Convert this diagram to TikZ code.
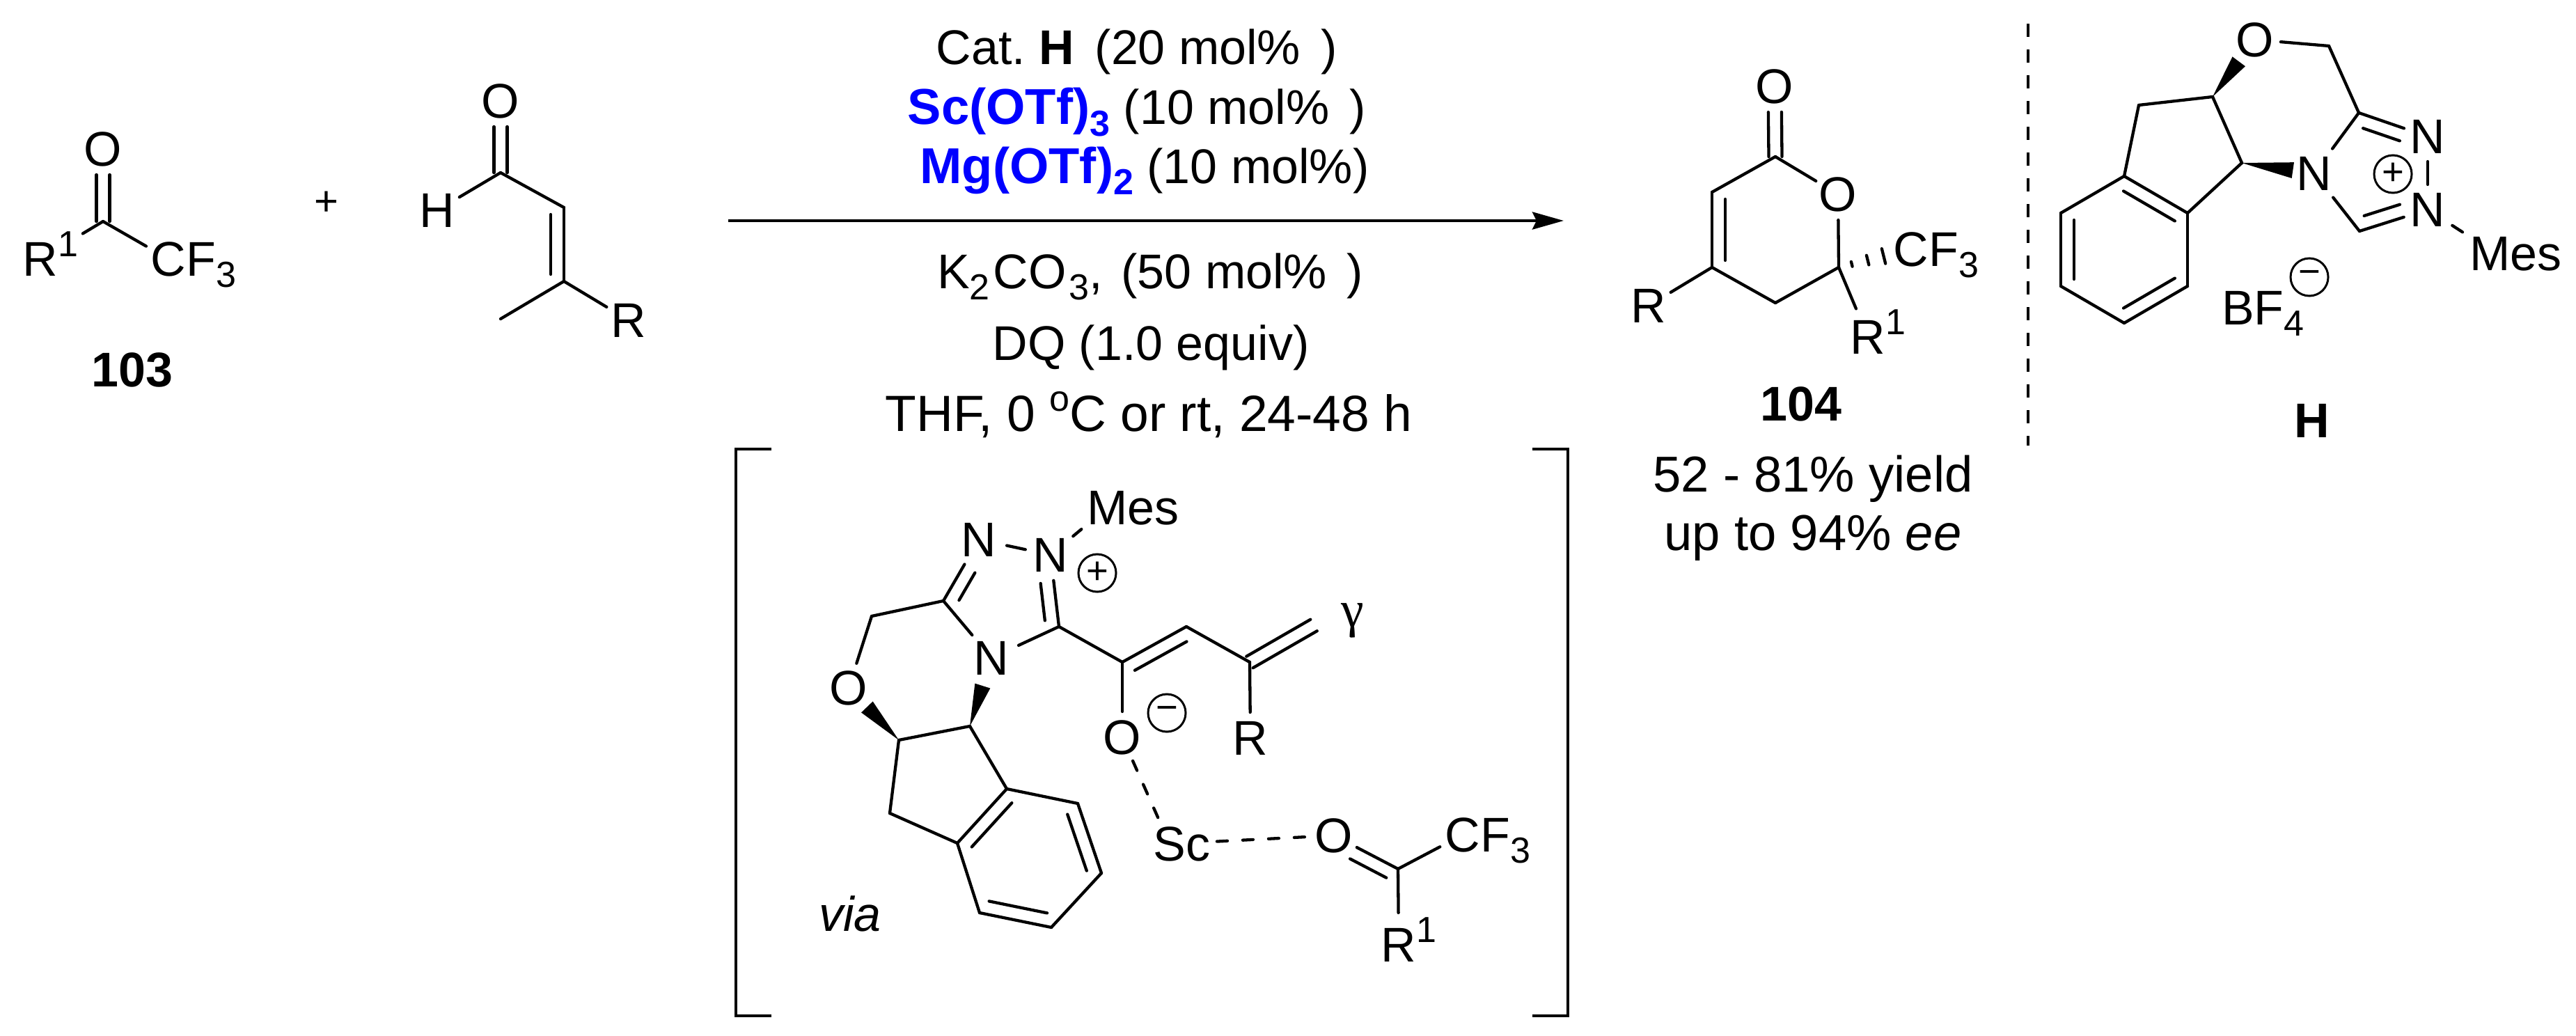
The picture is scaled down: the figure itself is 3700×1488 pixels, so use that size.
\documentclass[tikz,border=0pt]{standalone}
\usepackage{fontspec}
\setmainfont{Liberation Sans}
\newfontfamily\gammafont{Liberation Serif}
\frenchspacing
\usetikzlibrary{arrows.meta,calc}
\tikzstyle{bond}=[line width=.043cm, line cap=round, line join=round]
\tikzstyle{dashbond}=[bond, dash pattern=on .15cm off .22cm]
\tikzstyle{atom}=[circle, inner sep=0pt, outer sep=0pt, minimum size=.74cm]
\tikzstyle{txt}=[inner sep=0pt, outer sep=0pt, anchor=base]
\tikzstyle{charge}=[circle, draw=black, line width=.03cm, inner sep=0pt, minimum size=.54cm, font=\fontsize{15.5pt}{16pt}\selectfont]
\newcommand{\lsub}[1]{\raisebox{-.16cm}[0pt][0pt]{\fontsize{14.8pt}{16pt}\selectfont #1}}
\newcommand{\lsup}[1]{\raisebox{.28cm}[0pt][0pt]{\fontsize{14.8pt}{16pt}\selectfont #1}}
\newcommand{\leadbold}[1]{\textcolor{blue}{\fontsize{20.6pt}{24pt}\selectfont\textbf{#1}}}
\newcommand{\innerbond}[3][shorten <=.1cm,shorten >=.1cm]{\draw[bond,#1] ($(#2)!.19cm!90:(#3)$) -- ($(#3)!.19cm!-90:(#2)$);}
\newcommand{\twinbond}[3][]{\draw[bond,#1] ($(#2)!.095cm!90:(#3)$) -- ($(#3)!.095cm!-90:(#2)$);
  \draw[bond,#1] ($(#2)!.095cm!-90:(#3)$) -- ($(#3)!.095cm!90:(#2)$);}
\newcommand{\wedgebond}[3]{\coordinate (wmid) at ($(#2)!#3!(#1)$);
  \fill (#1) -- ($(wmid)!.115cm!90:(#1)$) -- ($(wmid)!.115cm!-90:(#1)$) -- cycle;}

\begin{document}
\begin{tikzpicture}[x=.01cm,y=-.01cm,
    every node/.append style={font=\fontsize{19.9pt}{24pt}\selectfont}]
  \useasboundingbox (0,0) rectangle (3700,1488);

  % ketone 103
  \node[atom] (oK) at (148,214) {O};
  \coordinate (cK) at (148,318);
  \node[atom] (rK) at (58,372) {R\rlap{\lsup{1}}};
  \node[atom] (cfK) at (242,372) {C\rlap{F\lsub{3}}};
  \node[txt] (nameK) at (190,555) {\textbf{103}};
  \twinbond[shorten >=.37cm]{cK}{oK}
  \draw[bond] (cK) -- (cfK);
  \draw[bond,shorten >=.34cm] (cK) -- (rK);
  \node[txt,font=\fontsize{17pt}{20pt}\selectfont] (plusK) at (469,309) {+};

  % enal
  \node[atom] (oA) at (719,145) {O};
  \node[atom] (hA) at (628,302) {H};
  \node[atom] (rA) at (903,460) {R};
  \coordinate (cA) at (719,248);
  \coordinate (c1A) at (810,298);
  \coordinate (c2A) at (810,404);
  \coordinate (meA) at (719,458);
  \twinbond[shorten >=.37cm]{cA}{oA}
  \foreach \a/\b in {cA/hA,cA/c1A,c1A/c2A,c2A/meA,c2A/rA}
    \draw[bond] (\a) -- (\b);
  \innerbond{c2A}{c1A}

  % conditions
  \node[txt] (catLine) at (1633,93) {Cat. \textbf{H}\hspace{.1cm} (20 mol\%\hspace{.1cm} )};
  \node[txt] (scLine) at (1633,179) {\leadbold{Sc(OTf)\lsub{3}} (10 mol\%\hspace{.1cm} )};
  \node[txt] (mgLine) at (1644,263) {\leadbold{Mg(OTf)\lsub{2}} (10 mol\%)};
  \node[txt] (baseLine) at (1652,414) {K\lsub{2}\hspace{.05cm}CO\hspace{.04cm}\lsub{3},\hspace{.07cm} (50 mol\%\hspace{.09cm} )};
  \node[txt] (dqLine) at (1653,517) {DQ (1.0 equiv)};
  \node[txt,font=\fontsize{20.8pt}{24pt}\selectfont] (thfLine) at (1650,619) {THF, 0 \lsup{o}C or rt, 24-48 h};
  \coordinate (arrowL) at (1046,317);
  \coordinate (arrowR) at (2246,317);
  \draw[line width=.045cm,-{Stealth[length=.45cm,width=.25cm,inset=.06cm]}] (arrowL) -- (arrowR);

  % product 104
  \node[atom] (oP) at (2549,124) {O};
  \node[atom] (oRP) at (2640,279) {O};
  \node[atom] (rP) at (2368,439) {R};
  \node[atom] (r1P) at (2683,484) {R\rlap{\lsup{1}}};
  \node[atom] (cfP) at (2745,358) {C\rlap{F\lsub{3}}};
  \coordinate (c1P) at (2550,225);
  \coordinate (c2P) at (2641,384);
  \coordinate (c3P) at (2550,435);
  \coordinate (c4P) at (2459,384);
  \coordinate (c5P) at (2459,276);
  \twinbond[shorten >=.37cm]{c1P}{oP}
  \foreach \a/\b in {c1P/oRP,oRP/c2P,c2P/c3P,c3P/c4P,c4P/c5P,c5P/c1P,c4P/rP}
    \draw[bond] (\a) -- (\b);
  \draw[bond,shorten >=.07cm] (c2P) -- (r1P);
  \innerbond{c5P}{c4P}
  \foreach \t/\w in {.18/.035cm,.40/.07cm,.62/.11cm}{
    \coordinate (hk) at ($(c2P)!\t!(cfP)$);
    \draw[bond] ($(hk)!\w!90:(cfP)$) -- ($(hk)!\w!-90:(cfP)$);
  }
  \node[txt] (nameP) at (2587,604) {\textbf{104}};
  \node[txt,font=\fontsize{20.6pt}{24pt}\selectfont] (yieldP) at (2604,706) {52 - 81\% yield};
  \node[txt,font=\fontsize{20.6pt}{24pt}\selectfont] (eeP) at (2604,790) {up to 94\% \textit{ee}};

  % divider
  \coordinate (dashT) at (2913,34);
  \coordinate (dashB) at (2913,640);
  \draw[line width=.045cm,dash pattern=on .19cm off .18cm] (dashT) -- (dashB);

  % catalyst H
  \node[atom] (oH) at (3239,57) {O};
  \node[atom,minimum size=.72cm] (nTH) at (3487,196) {N};
  \node[atom,minimum size=.72cm] (nMH) at (3487,301) {N};
  \node[atom,minimum size=.88cm] (nH) at (3324,249) {N};
  \node[txt,anchor=base west] (mesH) at (3547,388) {Mes};
  \node[txt,anchor=base west] (bfH) at (3191,466) {BF\lsub{4}};
  \node[charge] (plusH) at (3437,250) {+};
  \node[charge] (minusH) at (3317,398) {−};
  \node[txt] (nameH) at (3321,628) {\textbf{H}};
  \coordinate (c1H) at (3345,66);
  \coordinate (c2H) at (3388,162);
  \coordinate (cHH) at (3389,332);
  \coordinate (c3H) at (3220,234);
  \coordinate (c4H) at (3178,139);
  \coordinate (c5H) at (3072,151);
  \coordinate (c6H) at (3051,253);
  \coordinate (c7H) at (3142,306);
  \coordinate (c8H) at (3142,411);
  \coordinate (c9H) at (3051,464);
  \coordinate (c10H) at (2960,411);
  \coordinate (c11H) at (2960,306);
  \foreach \a/\b in {oH/c1H,c1H/c2H,c2H/nTH,c2H/nH,nTH/nMH,nMH/cHH,cHH/nH,
      c3H/c4H,c4H/c5H,c5H/c6H,c6H/c7H,c7H/c3H,c7H/c8H,c8H/c9H,c9H/c10H,c10H/c11H,c11H/c6H}
    \draw[bond] (\a) -- (\b);
  \draw[bond,shorten <=.06cm,shorten >=.12cm] (nMH) -- (mesH.north west);
  \innerbond[shorten <=.36cm,shorten >=.13cm]{nTH}{c2H}
  \innerbond[shorten <=.13cm,shorten >=.36cm]{cHH}{nMH}
  \innerbond{c7H}{c6H}
  \innerbond{c11H}{c10H}
  \innerbond{c9H}{c8H}
  \wedgebond{c4H}{oH}{.39cm}
  \wedgebond{c3H}{nH}{.31cm}

  % intermediate in brackets
  \coordinate (brLa) at (1108,645);
  \coordinate (brLb) at (1057,645);
  \coordinate (brLc) at (1057,1459);
  \coordinate (brLd) at (1108,1459);
  \coordinate (brRa) at (2201,645);
  \coordinate (brRb) at (2252,645);
  \coordinate (brRc) at (2252,1459);
  \coordinate (brRd) at (2201,1459);
  \draw[line width=.045cm] (brLa) -- (brLb) -- (brLc) -- (brLd);
  \draw[line width=.045cm] (brRa) -- (brRb) -- (brRc) -- (brRd);
  \node[atom,minimum size=.82cm] (n1V) at (1406,775) {N};
  \node[atom] (n2V) at (1509,797) {N};
  \node[atom,minimum size=.86cm] (n3V) at (1424,945) {N};
  \node[atom] (oV) at (1219,988) {O};
  \node[atom] (oeV) at (1612,1059) {O};
  \node[atom] (rV) at (1796,1060) {R};
  \node[atom] (scV) at (1680,1212) {S\rlap{c}};
  \node[atom] (okV) at (1916,1200) {O};
  \node[atom] (cfV) at (2101,1199) {C\rlap{F\lsub{3}}};
  \node[atom] (r1V) at (2009,1357) {R\rlap{\lsup{1}}};
  \node[txt,anchor=base west] (mesV) at (1561,753) {Mes};
  \node[charge] (plusV) at (1576,823) {+};
  \node[charge] (minusV) at (1676,1024) {−};
  \node[font=\gammafont\fontsize{21pt}{24pt}\selectfont,inner sep=0pt] (gammaV) at (1943,891) {γ};
  \node[txt,anchor=base west] (viaV) at (1176,1337) {\textit{via}};
  \coordinate (c1V) at (1355,863);
  \coordinate (c2V) at (1252,885);
  \coordinate (c3V) at (1521,900);
  \coordinate (c4V) at (1612,951);
  \coordinate (c5V) at (1704,900);
  \coordinate (c6V) at (1795,951);
  \coordinate (gV) at (1887,898);
  \coordinate (c7V) at (1291,1063);
  \coordinate (c8V) at (1393,1043);
  \coordinate (c9V) at (1278,1168);
  \coordinate (v1) at (1375,1211);
  \coordinate (v2) at (1446,1133);
  \coordinate (v3) at (1548,1154);
  \coordinate (v4) at (1582,1254);
  \coordinate (v5) at (1510,1332);
  \coordinate (v6) at (1407,1311);
  \coordinate (ckV) at (2008,1248);
  \foreach \a/\b in {n1V/n2V,c1V/n1V,c1V/c2V,c2V/oV,c1V/n3V,n3V/c3V,c3V/n2V,c3V/c4V,c4V/c5V,c5V/c6V,
      c4V/oeV,c6V/rV,c7V/c8V,c7V/c9V,c9V/v1,c8V/v2,v1/v2,v2/v3,v3/v4,v4/v5,v5/v6,v6/v1,ckV/okV,ckV/cfV}
    \draw[bond] (\a) -- (\b);
  \draw[bond,shorten >=.09cm] (ckV) -- (r1V);
  \draw[bond,shorten <=.05cm,shorten >=.1cm] (n2V) -- (mesV.south west);
  \twinbond{c6V}{gV}
  \innerbond[shorten <=.44cm,shorten >=.12cm]{n1V}{c1V}
  \innerbond[shorten <=.11cm,shorten >=.39cm]{c3V}{n2V}
  \innerbond{c5V}{c4V}
  \innerbond{v2}{v1}
  \innerbond{v4}{v3}
  \innerbond{v6}{v5}
  \innerbond[shorten <=.09cm,shorten >=.36cm]{ckV}{okV}
  \wedgebond{c7V}{oV}{.38cm}
  \wedgebond{c8V}{n3V}{.42cm}
  \draw[dashbond] (oeV) -- (scV);
  \draw[dashbond,shorten <=.31cm] (scV) -- (okV);
\end{tikzpicture}
\end{document}
